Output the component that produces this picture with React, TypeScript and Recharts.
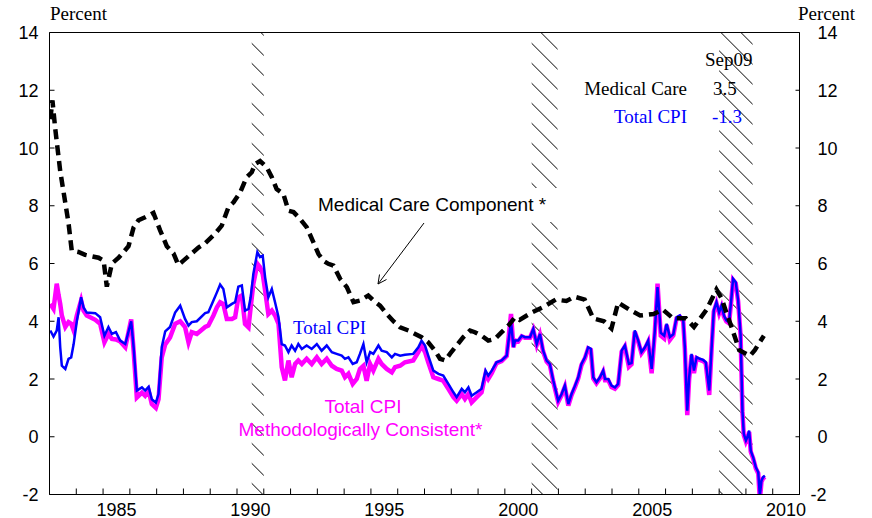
import React from 'react';
import { LineChart, Line, XAxis, YAxis, ReferenceArea } from 'recharts';

// ---- Data ----
const cpiYears = [
  1983.03, 1983.15, 1983.27, 1983.34, 1983.40, 1983.46, 1983.59, 1983.71, 1983.81, 1983.90,
  1984.02, 1984.18, 1984.27, 1984.39, 1984.71, 1984.89, 1985.05, 1985.20, 1985.33, 1985.48,
  1985.64, 1985.83, 1986.05, 1986.14, 1986.26, 1986.45, 1986.57, 1986.70, 1986.82, 1986.97,
  1987.07, 1987.19, 1987.32, 1987.50, 1987.69, 1987.88, 1988.06, 1988.19, 1988.31, 1988.50,
  1988.81, 1988.93, 1989.12, 1989.25, 1989.37, 1989.49, 1989.62, 1989.81, 1989.93, 1990.05,
  1990.18, 1990.30, 1990.43, 1990.51, 1990.61, 1990.76, 1990.86, 1990.96, 1991.05, 1991.17,
  1991.30, 1991.42, 1991.55, 1991.67, 1991.79, 1991.92, 1992.04, 1992.17, 1992.29, 1992.42,
  1992.60, 1992.79, 1992.98, 1993.16, 1993.35, 1993.54, 1993.72, 1993.91, 1994.03, 1994.16,
  1994.32, 1994.47, 1994.59, 1994.72, 1994.84, 1994.97, 1995.09, 1995.28, 1995.40, 1995.59,
  1995.78, 1995.90, 1996.09, 1996.27, 1996.58, 1996.77, 1996.89, 1997.02, 1997.14, 1997.33,
  1997.52, 1997.70, 1997.89, 1998.08, 1998.20, 1998.39, 1998.51, 1998.64, 1998.76, 1998.95,
  1999.13, 1999.28, 1999.38, 1999.51, 1999.69, 1999.88, 2000.07, 2000.23, 2000.32, 2000.38,
  2000.50, 2000.63, 2000.75, 2000.94, 2001.06, 2001.19, 2001.31, 2001.43, 2001.56, 2001.68,
  2001.81, 2001.99, 2002.12, 2002.24, 2002.37, 2002.49, 2002.62, 2002.74, 2002.86, 2002.99,
  2003.11, 2003.21, 2003.30, 2003.42, 2003.55, 2003.67, 2003.74, 2003.86, 2003.98, 2004.11,
  2004.23, 2004.36, 2004.48, 2004.63, 2004.73, 2004.85, 2004.98, 2005.10, 2005.23, 2005.35,
  2005.48, 2005.60, 2005.70, 2005.82, 2005.95, 2006.04, 2006.16, 2006.29, 2006.41, 2006.53,
  2006.66, 2006.72, 2006.81, 2006.88, 2006.97, 2007.06, 2007.16, 2007.28, 2007.40, 2007.50,
  2007.63, 2007.72, 2007.80, 2007.90, 2008.00, 2008.09, 2008.18, 2008.27, 2008.37, 2008.46,
  2008.52, 2008.62, 2008.71, 2008.80, 2008.87, 2008.92, 2009.00, 2009.06, 2009.12, 2009.18,
  2009.27, 2009.37, 2009.46, 2009.52, 2009.58, 2009.64, 2009.71,
];

const totalCpi = [
  3.68, 3.47, 3.68, 4.14, 3.10, 2.46, 2.35, 2.70, 2.75, 3.20,
  4.00, 4.83, 4.48, 4.30, 4.28, 4.14, 3.50, 3.80, 3.56, 3.62,
  3.33, 3.21, 4.00, 3.10, 1.60, 1.71, 1.60, 1.73, 1.30, 1.18,
  1.48, 3.10, 3.65, 3.80, 4.30, 4.54, 4.08, 3.85, 3.97, 4.00,
  4.28, 4.31, 4.72, 5.00, 5.27, 5.12, 4.48, 4.60, 4.66, 5.20,
  5.24, 4.37, 4.43, 4.83, 5.64, 6.39, 6.22, 6.27, 5.52, 4.83,
  5.12, 4.66, 4.14, 3.21, 3.16, 2.93, 3.16, 2.98, 3.21, 3.04,
  3.16, 3.04, 3.21, 2.98, 3.16, 2.93, 2.87, 2.81, 2.70, 2.75,
  2.52, 2.58, 2.87, 3.21, 2.58, 2.93, 2.87, 3.16, 2.98, 2.93,
  2.75, 2.87, 2.81, 2.84, 2.87, 3.10, 3.33, 3.16, 2.81, 2.29,
  2.18, 2.12, 1.83, 1.54, 1.37, 1.66, 1.54, 1.71, 1.42, 1.54,
  1.66, 2.29, 2.12, 2.29, 2.58, 2.64, 2.81, 4.00, 3.10, 3.33,
  3.33, 3.50, 3.45, 3.45, 3.73, 3.21, 3.56, 2.98, 2.64, 2.52,
  1.94, 1.25, 1.48, 1.77, 1.13, 1.48, 1.77, 2.06, 2.52, 2.75,
  3.10, 3.05, 2.06, 1.89, 2.06, 2.29, 2.00, 2.00, 1.77, 1.71,
  1.83, 2.98, 3.16, 2.52, 2.55, 3.68, 3.33, 2.93, 3.10, 3.33,
  2.35, 3.68, 5.18, 3.60, 3.50, 3.91, 3.45, 3.55, 4.14, 4.20,
  4.03, 3.10, 0.90, 2.06, 2.87, 2.29, 2.76, 2.70, 2.66, 2.58,
  1.60, 3.10, 4.37, 4.66, 4.31, 4.54, 4.20, 4.03, 3.97, 4.83,
  5.47, 5.35, 4.72, 3.56, 0.90, 0.10, -0.13, 0.00, 0.21, -0.48,
  -0.71, -1.06, -1.23, -2.04, -1.52, -1.40, -1.35,
];

const consistentCpi = [
  4.60, 4.43, 5.30, 4.90, 4.60, 4.20, 3.80, 3.97, 3.91, 3.68,
  4.20, 4.72, 4.37, 4.20, 4.05, 3.91, 3.27, 3.56, 3.39, 3.37,
  3.30, 3.10, 4.06, 2.98, 1.36, 1.53, 1.42, 1.60, 1.13, 1.00,
  1.30, 2.75, 3.20, 3.44, 3.91, 4.00, 3.80, 3.27, 3.62, 3.56,
  3.80, 3.85, 4.20, 4.48, 4.66, 4.60, 4.08, 4.08, 4.14, 4.83,
  4.89, 3.91, 3.79, 4.48, 5.29, 5.99, 5.87, 5.64, 5.06, 4.25,
  4.37, 4.20, 3.91, 2.41, 1.95, 2.64, 2.06, 2.52, 2.64, 2.52,
  2.70, 2.52, 2.75, 2.52, 2.70, 2.46, 2.35, 2.29, 2.06, 2.18,
  1.83, 2.00, 2.35, 2.46, 1.94, 2.52, 2.29, 2.70, 2.52, 2.35,
  2.23, 2.41, 2.46, 2.58, 2.64, 2.93, 3.16, 2.93, 2.58, 2.06,
  2.00, 1.94, 1.66, 1.37, 1.25, 1.48, 1.31, 1.48, 1.19, 1.37,
  1.54, 2.18, 2.00, 2.20, 2.55, 2.62, 2.80, 4.25, 3.10, 3.33,
  3.30, 3.48, 3.43, 3.43, 3.70, 3.18, 3.52, 2.95, 2.60, 2.48,
  1.90, 1.20, 1.44, 1.73, 1.08, 1.44, 1.73, 2.02, 2.48, 2.72,
  3.06, 3.01, 2.02, 1.85, 2.02, 2.25, 1.96, 1.96, 1.72, 1.66,
  1.79, 2.94, 3.12, 2.42, 2.51, 3.64, 3.29, 2.89, 3.06, 3.29,
  2.20, 3.64, 5.30, 3.50, 3.40, 3.87, 3.35, 3.51, 4.10, 4.16,
  3.99, 3.05, 0.75, 2.00, 2.83, 2.20, 2.72, 2.66, 2.62, 2.54,
  1.45, 3.06, 4.33, 4.62, 4.27, 4.50, 4.16, 3.99, 3.93, 4.79,
  5.43, 5.31, 4.68, 3.52, 0.86, 0.06, -0.17, -0.04, 0.17, -0.52,
  -0.75, -1.10, -1.27, -2.20, -1.56, -1.44, -1.39,
];

const medYears = [
  1983.03, 1983.11, 1983.21, 1983.40, 1983.59, 1983.71, 1983.83, 1984.08, 1984.33, 1984.58,
  1984.83, 1985.02, 1985.14, 1985.33, 1985.58, 1985.95, 1986.14, 1986.32, 1986.57, 1986.88,
  1987.13, 1987.38, 1987.63, 1987.81, 1988.00, 1988.25, 1988.56, 1988.81, 1989.18, 1989.43,
  1989.68, 1989.87, 1990.12, 1990.36, 1990.55, 1990.68, 1990.86, 1991.11, 1991.30, 1991.48,
  1991.73, 1991.92, 1992.11, 1992.35, 1992.60, 1992.85, 1993.04, 1993.22, 1993.41, 1993.60,
  1993.85, 1994.10, 1994.35, 1994.60, 1994.90, 1995.09, 1995.34, 1995.59, 1995.84, 1996.09,
  1996.40, 1996.65, 1996.89, 1997.14, 1997.39, 1997.58, 1997.77, 1997.95, 1998.20, 1998.45,
  1998.70, 1998.88, 1999.13, 1999.38, 1999.63, 1999.88, 2000.13, 2000.38, 2000.55, 2001.00,
  2001.45, 2001.90, 2002.30, 2002.60, 2002.98, 2003.30, 2003.70, 2003.98, 2004.23, 2004.65,
  2005.05, 2005.55, 2005.90, 2006.28, 2006.76, 2007.06, 2007.53, 2007.90, 2008.09, 2008.27,
  2008.50, 2008.75, 2009.15, 2009.33, 2009.67,
];

const medicalCare = [
  11.00, 11.65, 10.70, 9.20, 8.10, 7.40, 6.45, 6.40, 6.30, 6.25,
  6.20, 6.10, 5.20, 6.00, 6.20, 6.60, 7.25, 7.50, 7.60, 7.75,
  7.15, 6.60, 6.35, 5.95, 6.10, 6.30, 6.55, 6.70, 7.03, 7.31,
  7.95, 8.12, 8.47, 8.99, 9.16, 9.45, 9.55, 9.33, 8.99, 8.58,
  8.41, 7.83, 7.78, 7.55, 7.26, 6.74, 6.33, 6.10, 5.99, 5.93,
  5.47, 5.18, 4.66, 4.72, 4.89, 4.72, 4.54, 4.25, 4.00, 3.79,
  3.68, 3.56, 3.45, 3.27, 2.98, 2.70, 2.64, 2.87, 3.16, 3.45,
  3.68, 3.62, 3.50, 3.33, 3.39, 3.62, 3.85, 4.14, 4.05, 4.30,
  4.50, 4.75, 4.70, 4.85, 4.75, 4.10, 4.00, 3.75, 4.65, 4.40,
  4.20, 4.25, 4.40, 4.10, 4.10, 3.80, 4.40, 5.10, 4.80, 4.30,
  3.70, 3.00, 2.80, 3.00, 3.50,
];

const yTicks = [-2, 0, 2, 4, 6, 8, 10, 12, 14];
const yearTicks = Array.from({ length: 29 }, (_, i) => 1983 + i);
const yearLabels = [1985, 1990, 1995, 2000, 2005, 2010];
const recessions = [
  [1990.55, 1991.0],
  [2001.0, 2001.97],
  [2008.0, 2009.25],
];

const cpiData = cpiYears.map((year, i) => ({ year, total: totalCpi[i], consistent: consistentCpi[i] }));
const medData = medYears.map((year, i) => ({ year, medical: medicalCare[i] }));
const xTicks = [...yearTicks, ...yearLabels.map((y) => y + 0.5)].sort((a, b) => a - b);

const SANS = 'Liberation Sans, Arial, Helvetica, sans-serif';
const SERIF = 'Liberation Serif, Times New Roman, serif';

const XTick = (props: any) => {
  const { x, y, payload } = props;
  const v = payload.value as number;
  if (Number.isInteger(v)) {
    return <line x1={x} y1={y} x2={x} y2={y - 6} stroke="#000" strokeWidth={1} />;
  }
  return (
    <text x={x} y={y + 21} textAnchor="middle" fontSize={18} fontFamily={SANS} fill="#000">
      {Math.floor(v)}
    </text>
  );
};

const LeftTick = (props: any) => {
  const { x, y, payload } = props;
  return (
    <g>
      <line x1={x} y1={y} x2={x + 5} y2={y} stroke="#000" strokeWidth={1} />
      <text x={x - 11} y={y + 6.5} textAnchor="end" fontSize={18} fontFamily={SANS} fill="#000">
        {payload.value}
      </text>
    </g>
  );
};

const RightTick = (props: any) => {
  const { x, y, payload } = props;
  const v = payload.value as number;
  return (
    <g>
      <line x1={x} y1={y} x2={x - 4} y2={y} stroke="#000" strokeWidth={1} />
      <text x={x + (v < 0 ? 11 : 18)} y={y + 6.5} textAnchor="start" fontSize={18} fontFamily={SANS} fill="#000">
        {v}
      </text>
    </g>
  );
};

export default function App() {
  return (
    <div style={{ position: 'absolute', left: 0, top: 0, width: 872, height: 518, background: '#fff' }}>
      <svg width={0} height={0} style={{ position: 'absolute' }}>
        <defs>
          <pattern id="hatch" patternUnits="userSpaceOnUse" x={0} y={11.6} width={20} height={20}>
            <path d="M-2,-2 L22,22" stroke="#000" strokeWidth={1} />
            <path d="M18,-2 L22,2" stroke="#000" strokeWidth={1} />
            <path d="M-2,18 L2,22" stroke="#000" strokeWidth={1} />
          </pattern>
        </defs>
      </svg>
      <LineChart
        width={872}
        height={518}
        margin={{ top: 0, right: 0, bottom: 0, left: 0 }}
      >
        <XAxis
          dataKey="year"
          type="number"
          domain={[1983, 2011]}
          allowDataOverflow
          ticks={xTicks}
          interval={0}
          tickSize={0}
          tickMargin={0}
          tick={<XTick />}
          height={23.5}
          axisLine={{ stroke: '#000', strokeWidth: 1 }}
          tickLine={false}
        />
        <XAxis
          xAxisId="top"
          orientation="top"
          dataKey="year"
          type="number"
          domain={[1983, 2011]}
          allowDataOverflow
          tick={false}
          tickLine={false}
          height={32.5}
          axisLine={{ stroke: '#000', strokeWidth: 1 }}
        />
        <YAxis
          yAxisId="left"
          type="number"
          domain={[-2, 14]}
          allowDataOverflow
          ticks={yTicks}
          interval={0}
          width={49.5}
          tickSize={0}
          tickMargin={0}
          tick={<LeftTick />}
          tickLine={false}
          axisLine={{ stroke: '#000', strokeWidth: 1 }}
        />
        <YAxis
          yAxisId="right"
          orientation="right"
          type="number"
          domain={[-2, 14]}
          allowDataOverflow
          ticks={yTicks}
          interval={0}
          width={72.5}
          tickSize={0}
          tickMargin={0}
          tick={<RightTick />}
          tickLine={false}
          axisLine={{ stroke: '#000', strokeWidth: 1 }}
        />
        {recessions.map(([a, b], i) => (
          <ReferenceArea
            key={i}
            yAxisId="left"
            x1={a}
            x2={b}
            y1={-2}
            y2={14}
            fill="url(#hatch)"
            fillOpacity={1}
            stroke="none"
            ifOverflow="hidden"
          />
        ))}
        <Line
          yAxisId="left"
          data={cpiData}
          dataKey="consistent"
          type="linear"
          stroke="#FF00FF"
          strokeWidth={4.5}
          dot={false}
          activeDot={false}
          isAnimationActive={false}
        />
        <Line
          yAxisId="left"
          data={cpiData}
          dataKey="total"
          type="linear"
          stroke="#0000FF"
          strokeWidth={2.5}
          dot={false}
          activeDot={false}
          isAnimationActive={false}
        />
        <Line
          yAxisId="left"
          data={medData}
          dataKey="medical"
          type="linear"
          stroke="#000"
          strokeWidth={4.5}
          strokeDasharray="10 6"
          dot={false}
          activeDot={false}
          isAnimationActive={false}
        />
      </LineChart>
      <svg
        width={872}
        height={518}
        style={{ position: 'absolute', left: 0, top: 0, pointerEvents: 'none' }}
      >
        <text x={50} y={20} fontSize={19} fontFamily={SERIF} fill="#000">Percent</text>
        <text x={798} y={20} fontSize={19} fontFamily={SERIF} fill="#000">Percent</text>

        <text x={705} y={66} fontSize={19} fontFamily={SERIF} fill="#000">Sep09</text>
        <text x={687} y={94.5} textAnchor="end" fontSize={19} fontFamily={SERIF} fill="#000">Medical Care</text>
        <text x={713} y={94.5} fontSize={19} fontFamily={SERIF} fill="#000">3.5</text>
        <text x={687} y={123} textAnchor="end" fontSize={19} fontFamily={SERIF} fill="#0000FF">Total CPI</text>
        <text x={712} y={123} fontSize={19} fontFamily={SERIF} fill="#0000FF">-1.3</text>

        <rect x={310} y={188} width={252} height={34} fill="#fff" />
        <text x={318} y={211} fontSize={19} fontFamily={SANS} fill="#000">Medical Care Component *</text>
        <line x1={424} y1={223} x2={378} y2={284} stroke="#000" strokeWidth={1} />
        <path d="M378,284 L379.5,274.5 M378,284 L386.5,279.5" stroke="#000" strokeWidth={1} fill="none" />

        <text x={293} y={334} fontSize={19} fontFamily={SERIF} fill="#0000FF">Total CPI</text>
        <text x={363} y={413} textAnchor="middle" fontSize={19} fontFamily={SANS} fill="#FF00FF">Total CPI</text>
        <text x={360.5} y={436} textAnchor="middle" fontSize={19} fontFamily={SANS} fill="#FF00FF">
          Methodologically Consistent*
        </text>
      </svg>
    </div>
  );
}
